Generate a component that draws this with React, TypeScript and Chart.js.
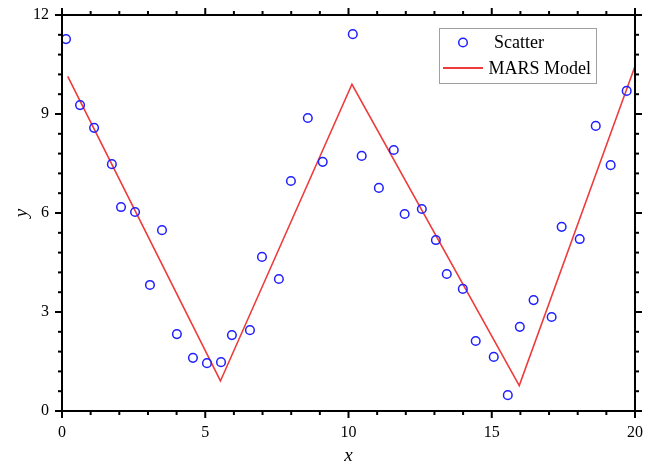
import React, { useEffect, useRef } from "react";
import { Chart, registerables } from "chart.js";
Chart.register(...registerables);

const scatterX = [0.14, 0.63, 1.12, 1.74, 2.06, 2.55, 3.07, 3.49, 4.01, 4.57, 5.06, 5.55, 5.93, 6.56, 6.98, 7.57, 7.99, 8.58, 9.1, 10.15, 10.46, 11.06, 11.58, 11.96, 12.56, 13.05, 13.43, 13.99, 14.44, 15.07, 15.56, 15.98, 16.46, 17.09, 17.44, 18.07, 18.63, 19.15, 19.71];
const scatterY = [11.27, 9.27, 8.58, 7.48, 6.18, 6.03, 3.82, 5.48, 2.33, 1.61, 1.45, 1.48, 2.3, 2.45, 4.67, 4.0, 6.97, 8.88, 7.55, 11.42, 7.73, 6.76, 7.91, 5.97, 6.12, 5.18, 4.15, 3.7, 2.12, 1.64, 0.48, 2.55, 3.36, 2.85, 5.58, 5.21, 8.64, 7.45, 9.7];
const modelX = [0.2, 5.53, 10.12, 15.96, 20];
const modelY = [10.14, 0.91, 9.9, 0.77, 10.45];
const xMajorTicks = [0, 5, 10, 15, 20];
const yMajorTicks = [0, 3, 6, 9, 12];
const xMinorStep = 1;
const yMinorStep = 0.6;
const seriesNames = ["Scatter", "MARS Model"];

const FONT = "'Liberation Serif', 'Times New Roman', serif";
const BLUE = "#1f1fff";
const RED = "#ee3b3b";

const framePlugin = {
  id: "frame",
  afterDraw(chart: any) {
    const { ctx, chartArea: a, scales } = chart;
    const xs = scales.x;
    const ys = scales.y;
    ctx.save();
    ctx.strokeStyle = "#000";
    ctx.lineWidth = 2;
    ctx.lineCap = "butt";
    ctx.beginPath();
    ctx.rect(a.left, a.top, a.right - a.left, a.bottom - a.top);
    ctx.stroke();
    const seg = (x1: number, y1: number, x2: number, y2: number) => {
      ctx.beginPath();
      ctx.moveTo(x1, y1);
      ctx.lineTo(x2, y2);
      ctx.stroke();
    };
    const xMin = xMajorTicks[0], xMax = xMajorTicks[xMajorTicks.length - 1];
    const nx = Math.round((xMax - xMin) / xMinorStep);
    for (let i = 0; i <= nx; i++) {
      const v = xMin + i * xMinorStep;
      const major = xMajorTicks.some((t) => Math.abs(t - v) < 1e-6);
      const len = major ? 7 : 4;
      const px = xs.getPixelForValue(v);
      seg(px, a.bottom, px, a.bottom + len);
      seg(px, a.top, px, a.top - len);
    }
    const yMin = yMajorTicks[0], yMax = yMajorTicks[yMajorTicks.length - 1];
    const ny = Math.round((yMax - yMin) / yMinorStep);
    for (let i = 0; i <= ny; i++) {
      const v = yMin + i * yMinorStep;
      const major = yMajorTicks.some((t) => Math.abs(t - v) < 1e-6);
      const len = major ? 7 : 4;
      const py = ys.getPixelForValue(v);
      seg(a.left, py, a.left - len, py);
      seg(a.right, py, a.right + len, py);
    }

    // legend
    const ds = chart.data.datasets;
    const bw = 157, bh = 55;
    const bx = Math.round(a.right - 39 - bw) + 0.5;
    const by = Math.round(a.top + 13) + 0.5;
    ctx.fillStyle = "#fff";
    ctx.fillRect(bx, by, bw, bh);
    ctx.strokeStyle = "#a0a0a0";
    ctx.lineWidth = 1;
    ctx.strokeRect(bx, by, bw, bh);
    ctx.font = `18px ${FONT}`;
    ctx.fillStyle = "#000";
    ctx.textBaseline = "middle";
    ctx.textAlign = "left";
    ctx.strokeStyle = ds[0].borderColor;
    ctx.lineWidth = 1.5;
    ctx.beginPath();
    ctx.arc(bx + 23.5, by + 14, 4.3, 0, Math.PI * 2);
    ctx.stroke();
    ctx.fillText(ds[0].label, bx + 54.5, by + 15);
    ctx.strokeStyle = ds[1].borderColor;
    ctx.lineWidth = 2;
    seg(bx + 3.5, by + 39.5, bx + 43.5, by + 39.5);
    ctx.fillText(ds[1].label, bx + 49, by + 41);
    ctx.restore();
  },
};

export default function App() {
  const ref = useRef<HTMLCanvasElement>(null);
  useEffect(() => {
    const scatterPts = scatterX.map((x, i) => ({ x, y: scatterY[i] }));
    const modelPts = modelX.map((x, i) => ({ x, y: modelY[i] }));
    const chart = new Chart(ref.current as HTMLCanvasElement, {
      type: "scatter",
      data: {
        datasets: [
          {
            label: seriesNames[0],
            data: scatterPts,
            pointStyle: "circle",
            pointRadius: 4.3,
            pointBorderWidth: 1.5,
            borderColor: BLUE,
            backgroundColor: "rgba(0,0,0,0)",
            pointBackgroundColor: "rgba(0,0,0,0)",
            pointBorderColor: BLUE,
            showLine: false,
          } as any,
          {
            label: seriesNames[1],
            data: modelPts,
            showLine: true,
            pointRadius: 0,
            borderColor: RED,
            borderWidth: 1.6,
            backgroundColor: RED,
            fill: false,
            tension: 0,
          } as any,
        ],
      },
      options: {
        animation: false,
        responsive: false,
        devicePixelRatio: 1,
        layout: { padding: { left: 0, top: 15, right: 23, bottom: 0 } },
        plugins: { legend: { display: false }, tooltip: { enabled: false } },
        scales: {
          x: {
            type: "linear",
            min: 0,
            max: 20,
            afterFit: (s: any) => {
              s.height = 53;
              s.paddingLeft = 0;
              s.paddingRight = 0;
            },
            grid: { display: false, drawTicks: false },
            border: { display: false },
            ticks: {
              stepSize: 5,
              padding: 12,
              color: "#000",
              font: { family: FONT, size: 16 },
              maxRotation: 0,
            },
            title: {
              display: true,
              text: "x",
              color: "#000",
              font: { family: FONT, size: 19, style: "italic", lineHeight: 0.8 },
              padding: { top: 0, bottom: 0 },
            },
          },
          y: {
            type: "linear",
            min: 0,
            max: 12,
            afterFit: (s: any) => {
              s.width = 62;
              s.paddingTop = 0;
              s.paddingBottom = 0;
            },
            grid: { display: false, drawTicks: false },
            border: { display: false },
            ticks: {
              stepSize: 3,
              padding: 13,
              color: "#000",
              font: { family: FONT, size: 16 },
            },
            title: {
              display: true,
              text: "y",
              color: "#000",
              font: { family: FONT, size: 19, style: "italic" },
              padding: { top: 11, bottom: 0 },
            },
          },
        },
      },
      plugins: [framePlugin],
    });
    return () => chart.destroy();
  }, []);
  return (
    <div style={{ position: "absolute", left: 0, top: 0, width: 658, height: 464, background: "#fff" }}>
      <canvas ref={ref} width={658} height={464} />
    </div>
  );
}
